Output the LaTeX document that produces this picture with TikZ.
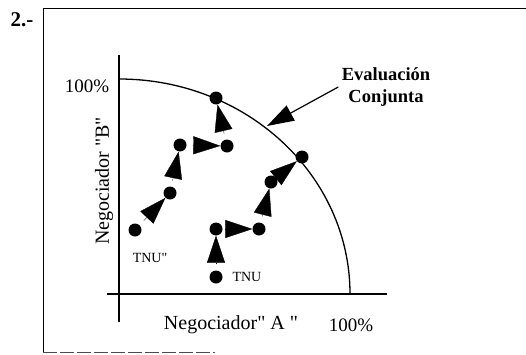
\documentclass[tikz,border=0pt]{standalone}
\usepackage{fontspec}
\setmainfont{Liberation Serif}
\usetikzlibrary{arrows.meta}

\begin{document}
\begin{tikzpicture}
			[x=1pt,y=1pt,dot/.style={circle,fill=black,inner sep=0pt,minimum size=13pt},
			move/.style={-{Triangle[length=27pt,width=18pt]},line width=0.3pt,shorten <=6pt},
			lbl/.style={font=\fontsize{20}{22}\selectfont}]
			\useasboundingbox (0,0) rectangle (526,354);
			% marco
			\draw[line width=0.9pt] (43,2) -- (43,346) -- (526,346);
			\draw[line width=0.5pt,black!70,dash pattern=on 14pt off 3pt] (43,2) -- (215,2);
			\node[font=\fontsize{21}{24}\selectfont\bfseries] (num) at (22,334) {2.-};
			
			% ejes
			\coordinate (o) at (119,60);
			\draw[line width=1.1pt] (119,32) -- (119,299);
			\draw[line width=1.1pt] (107,60) -- (387,60);
			\draw[line width=1.3pt] (119,275) arc[start angle=90,end angle=0,x radius=231pt,y radius=215pt];
			
			\node[lbl,rotate=90] (ylab) at (104,173) {Negociador \textquotedbl B\textquotedbl};
			\node[lbl] (xlab) at (231,29) {Negociador\textquotedbl{} A \textquotedbl};
			\node[font=\fontsize{19}{21}\selectfont] (ymax) at (87,268) {100\%};
			\node[font=\fontsize{19}{21}\selectfont] (xmax) at (351,29) {100\%};
			
			\node[font=\fontsize{18.5}{22}\selectfont\bfseries,align=center] (eval) at (386,267) {Evaluación\\Conjunta};
			\coordinate (ec) at (267,228);
			\draw[-{Triangle[length=27pt,width=17pt]},line width=1.2pt] (eval.west) -- (ec);
			
			% puntos
			\node[dot] (a1) at (135,124) {};
			\node[dot] (a2) at (170,161) {};
			\node[dot] (a3) at (180,209) {};
			\node[dot] (a4) at (227,208) {};
			\node[dot] (a5) at (216,256) {};
			\node[dot] (b1) at (216,77) {};
			\node[dot] (b2) at (216,125) {};
			\node[dot] (b3) at (259,125) {};
			\node[dot] (b4) at (271,172) {};
			\node[dot] (b5) at (302,197) {};
			
			\node[font=\fontsize{14}{16}\selectfont] (tnua) at (150,96) {TNU\textquotedbl};
			\node[font=\fontsize{14}{16}\selectfont,anchor=west] (tnub) at (229,77) {TNU};
			
			\foreach \from/\to in {a1/a2,a2/a3,a3/a4,a4/a5,b1/b2,b2/b3,b3/b4,b4/b5}
			\draw[move] (\from) to (\to);
			\end{tikzpicture}
\end{document}
